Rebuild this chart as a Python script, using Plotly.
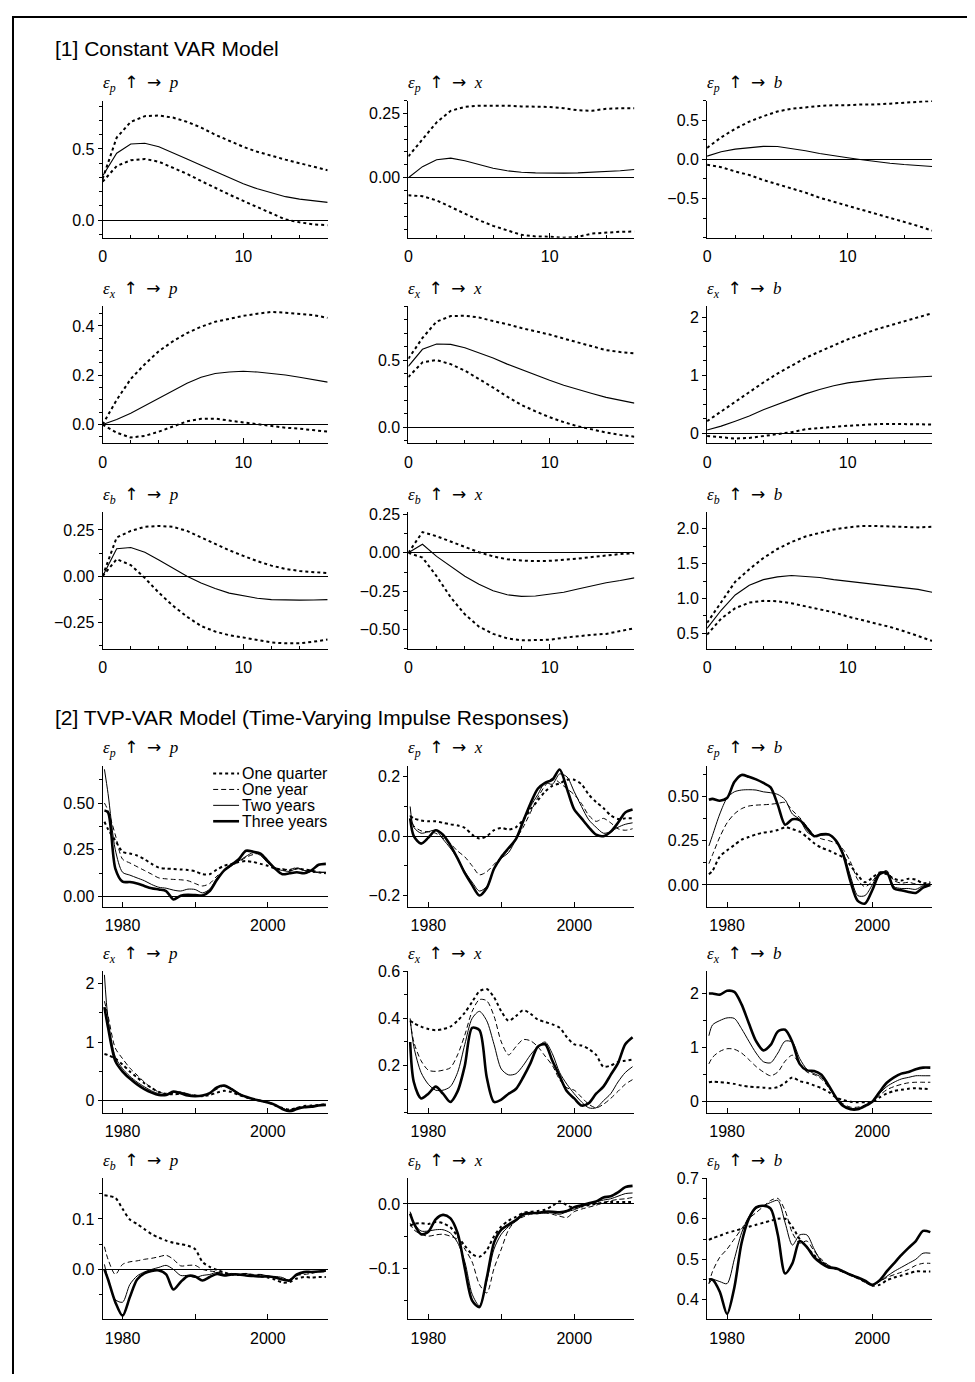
import plotly.graph_objects as go

# ---------------- DATA ----------------
HORIZON = list(range(17))

PP_MED = [0.31, 0.47, 0.535, 0.54, 0.515, 0.475, 0.43, 0.385, 0.34, 0.295, 0.255, 0.22, 0.19, 0.165, 0.148, 0.135, 0.125]
PP_UP = [0.29, 0.58, 0.69, 0.73, 0.735, 0.72, 0.69, 0.65, 0.60, 0.555, 0.515, 0.48, 0.45, 0.425, 0.40, 0.375, 0.35]
PP_LO = [0.27, 0.38, 0.42, 0.43, 0.41, 0.37, 0.325, 0.275, 0.225, 0.18, 0.135, 0.09, 0.045, 0.005, -0.015, -0.03, -0.035]

PX_MED = [0.0, 0.043, 0.07, 0.076, 0.066, 0.05, 0.037, 0.027, 0.021, 0.019, 0.018, 0.018, 0.019, 0.021, 0.024, 0.027, 0.032]
PX_UP = [0.083, 0.15, 0.215, 0.26, 0.275, 0.28, 0.28, 0.28, 0.277, 0.276, 0.275, 0.27, 0.262, 0.26, 0.268, 0.27, 0.27]
PX_LO = [-0.068, -0.072, -0.088, -0.114, -0.14, -0.165, -0.187, -0.206, -0.222, -0.228, -0.229, -0.233, -0.23, -0.217, -0.213, -0.21, -0.209]

PB_MED = [0.04, 0.096, 0.13, 0.15, 0.165, 0.163, 0.14, 0.11, 0.075, 0.045, 0.02, -0.005, -0.03, -0.05, -0.067, -0.08, -0.092]
PB_UP = [0.146, 0.28, 0.39, 0.48, 0.55, 0.61, 0.645, 0.665, 0.68, 0.69, 0.69, 0.70, 0.70, 0.71, 0.72, 0.735, 0.745]
PB_LO = [-0.07, -0.10, -0.155, -0.2, -0.265, -0.32, -0.37, -0.425, -0.49, -0.54, -0.6, -0.65, -0.7, -0.745, -0.8, -0.85, -0.91]

XP_MED = [0.0, 0.02, 0.046, 0.077, 0.106, 0.139, 0.168, 0.192, 0.207, 0.213, 0.216, 0.213, 0.208, 0.201, 0.192, 0.183, 0.172]
XP_UP = [0.0, 0.10, 0.185, 0.245, 0.298, 0.338, 0.371, 0.397, 0.417, 0.43, 0.441, 0.45, 0.457, 0.454, 0.45, 0.444, 0.433]
XP_LO = [0.0, -0.033, -0.053, -0.046, -0.029, -0.007, 0.013, 0.023, 0.024, 0.016, 0.009, 0.0, -0.007, -0.013, -0.017, -0.023, -0.029]

XX_MED = [0.454, 0.58, 0.62, 0.617, 0.592, 0.556, 0.515, 0.47, 0.43, 0.386, 0.35, 0.313, 0.28, 0.252, 0.223, 0.20, 0.18]
XX_UP = [0.51, 0.665, 0.786, 0.827, 0.83, 0.817, 0.79, 0.767, 0.738, 0.714, 0.69, 0.66, 0.63, 0.60, 0.574, 0.56, 0.55]
XX_LO = [0.374, 0.483, 0.50, 0.47, 0.422, 0.362, 0.296, 0.228, 0.167, 0.119, 0.075, 0.039, 0.007, -0.015, -0.039, -0.056, -0.07]

XB_MED = [0.056, 0.124, 0.21, 0.30, 0.405, 0.50, 0.59, 0.68, 0.755, 0.82, 0.87, 0.905, 0.93, 0.95, 0.965, 0.975, 0.985]
XB_UP = [0.21, 0.38, 0.55, 0.72, 0.876, 1.03, 1.17, 1.30, 1.41, 1.52, 1.62, 1.70, 1.79, 1.86, 1.93, 2.0, 2.07]
XB_LO = [-0.045, -0.07, -0.09, -0.08, -0.05, -0.017, 0.02, 0.07, 0.096, 0.11, 0.13, 0.146, 0.158, 0.163, 0.163, 0.158, 0.152]

BP_MED = [0.0, 0.148, 0.155, 0.13, 0.087, 0.042, 0.0, -0.037, -0.067, -0.092, -0.108, -0.12, -0.127, -0.13, -0.13, -0.129, -0.127]
BP_UP = [0.0, 0.21, 0.245, 0.267, 0.272, 0.267, 0.245, 0.21, 0.175, 0.14, 0.11, 0.081, 0.057, 0.039, 0.028, 0.021, 0.016]
BP_LO = [0.0, 0.092, 0.06, -0.01, -0.09, -0.16, -0.22, -0.27, -0.30, -0.32, -0.332, -0.346, -0.359, -0.364, -0.364, -0.355, -0.343]

BX_MED = [0.0, 0.056, -0.023, -0.09, -0.152, -0.204, -0.246, -0.273, -0.283, -0.281, -0.27, -0.256, -0.235, -0.215, -0.194, -0.18, -0.163]
BX_UP = [0.0, 0.135, 0.108, 0.073, 0.04, 0.004, -0.023, -0.042, -0.05, -0.054, -0.052, -0.046, -0.038, -0.027, -0.017, -0.008, -0.002]
BX_LO = [0.0, -0.031, -0.152, -0.29, -0.40, -0.48, -0.527, -0.556, -0.569, -0.569, -0.565, -0.552, -0.542, -0.533, -0.527, -0.51, -0.49]

BB_MED = [0.57, 0.83, 1.05, 1.19, 1.27, 1.31, 1.33, 1.32, 1.30, 1.27, 1.245, 1.22, 1.20, 1.18, 1.155, 1.13, 1.09]
BB_UP = [0.65, 0.95, 1.24, 1.42, 1.58, 1.71, 1.81, 1.89, 1.94, 1.99, 2.02, 2.04, 2.04, 2.03, 2.02, 2.02, 2.03]
BB_LO = [0.48, 0.71, 0.86, 0.94, 0.965, 0.96, 0.93, 0.89, 0.84, 0.80, 0.74, 0.69, 0.65, 0.59, 0.53, 0.46, 0.39]

YEARS = [1977.5, 1978, 1979, 1980, 1981, 1982, 1983, 1984, 1985, 1986, 1987, 1988, 1989, 1990, 1991,
         1992, 1993, 1994, 1995, 1996, 1997, 1998, 1999, 2000, 2001, 2002, 2003, 2004, 2005, 2006, 2007, 2008]

TVP_PP_Q = [0.40, 0.36, 0.30, 0.24, 0.23, 0.22, 0.20, 0.175, 0.155, 0.15, 0.148, 0.145, 0.142, 0.135, 0.12, 0.12, 0.145, 0.165, 0.175, 0.185, 0.19, 0.185, 0.175, 0.165, 0.15, 0.145, 0.14, 0.15, 0.145, 0.14, 0.13, 0.125]
TVP_PP_D = [0.50, 0.46, 0.33, 0.20, 0.18, 0.16, 0.14, 0.12, 0.10, 0.095, 0.092, 0.09, 0.085, 0.07, 0.057, 0.07, 0.11, 0.14, 0.165, 0.185, 0.21, 0.225, 0.23, 0.19, 0.155, 0.148, 0.145, 0.155, 0.14, 0.13, 0.13, 0.13]
TVP_PP_T = [0.68, 0.55, 0.25, 0.13, 0.115, 0.10, 0.085, 0.065, 0.05, 0.045, 0.035, 0.03, 0.04, 0.038, 0.02, 0.04, 0.10, 0.14, 0.165, 0.19, 0.215, 0.235, 0.22, 0.18, 0.15, 0.14, 0.135, 0.15, 0.14, 0.135, 0.13, 0.13]
TVP_PP_K = [0.46, 0.45, 0.15, 0.08, 0.078, 0.07, 0.057, 0.045, 0.038, 0.03, -0.015, 0.005, 0.01, 0.008, 0.006, 0.03, 0.09, 0.14, 0.17, 0.20, 0.245, 0.24, 0.23, 0.19, 0.15, 0.12, 0.125, 0.13, 0.125, 0.14, 0.17, 0.175]

TVP_PX_Q = [0.068, 0.06, 0.053, 0.05, 0.05, 0.045, 0.04, 0.036, 0.028, 0.005, -0.008, 0.0, 0.02, 0.028, 0.022, 0.03, 0.055, 0.09, 0.12, 0.15, 0.17, 0.178, 0.19, 0.19, 0.175, 0.14, 0.115, 0.095, 0.07, 0.058, 0.06, 0.06]
TVP_PX_D = [0.07, 0.035, 0.018, 0.015, 0.01, -0.007, -0.025, -0.05, -0.07, -0.10, -0.13, -0.12, -0.095, -0.07, -0.045, -0.01, 0.03, 0.08, 0.13, 0.17, 0.195, 0.18, 0.16, 0.14, 0.11, 0.07, 0.05, 0.06, 0.045, 0.025, 0.02, 0.025]
TVP_PX_T = [0.10, 0.03, 0.01, 0.015, 0.02, -0.01, -0.04, -0.075, -0.12, -0.155, -0.185, -0.17, -0.11, -0.075, -0.055, -0.01, 0.05, 0.10, 0.14, 0.18, 0.175, 0.21, 0.20, 0.15, 0.10, 0.055, 0.03, 0.01, 0.015, 0.03, 0.04, 0.045]
TVP_PX_K = [0.06, 0.0, -0.025, -0.005, 0.02, 0.005, -0.03, -0.075, -0.125, -0.165, -0.20, -0.175, -0.11, -0.07, -0.04, -0.01, 0.05, 0.11, 0.16, 0.18, 0.19, 0.225, 0.16, 0.09, 0.06, 0.03, 0.005, 0.0, 0.015, 0.045, 0.08, 0.09]

TVP_PB_Q = [0.06, 0.08, 0.16, 0.195, 0.225, 0.255, 0.27, 0.285, 0.295, 0.30, 0.31, 0.325, 0.315, 0.30, 0.27, 0.235, 0.21, 0.195, 0.175, 0.155, 0.11, 0.055, 0.015, 0.04, 0.07, 0.06, 0.035, 0.025, 0.035, 0.03, 0.01, 0.015]
TVP_PB_D = [0.12, 0.17, 0.27, 0.35, 0.40, 0.43, 0.445, 0.45, 0.452, 0.455, 0.46, 0.465, 0.42, 0.38, 0.33, 0.28, 0.26, 0.25, 0.235, 0.20, 0.13, 0.03, -0.01, 0.02, 0.07, 0.08, 0.025, 0.01, 0.015, 0.005, 0.0, 0.01]
TVP_PB_T = [0.22, 0.28, 0.40, 0.49, 0.525, 0.535, 0.537, 0.535, 0.525, 0.52, 0.51, 0.48, 0.40, 0.37, 0.30, 0.275, 0.28, 0.28, 0.25, 0.18, 0.05, -0.06, -0.06, 0.0, 0.07, 0.07, -0.01, -0.02, -0.02, -0.025, -0.005, 0.0]
TVP_PB_K = [0.48, 0.485, 0.475, 0.49, 0.58, 0.62, 0.61, 0.595, 0.575, 0.55, 0.45, 0.34, 0.37, 0.365, 0.32, 0.275, 0.285, 0.285, 0.25, 0.17, 0.02, -0.09, -0.105, -0.03, 0.06, 0.07, -0.02, -0.03, -0.04, -0.045, -0.015, 0.0]

TVP_XP_Q = [0.80, 0.78, 0.72, 0.62, 0.50, 0.40, 0.30, 0.22, 0.15, 0.12, 0.11, 0.12, 0.11, 0.09, 0.08, 0.10, 0.14, 0.17, 0.15, 0.10, 0.06, 0.02, 0.0, -0.02, -0.08, -0.12, -0.15, -0.12, -0.09, -0.08, -0.07, -0.06]
TVP_XP_D = [1.70, 1.45, 0.90, 0.72, 0.56, 0.44, 0.32, 0.22, 0.15, 0.12, 0.13, 0.15, 0.12, 0.09, 0.08, 0.12, 0.20, 0.25, 0.20, 0.12, 0.07, 0.03, 0.0, -0.03, -0.08, -0.13, -0.16, -0.12, -0.10, -0.09, -0.08, -0.07]
TVP_XP_T = [2.15, 1.40, 0.75, 0.55, 0.42, 0.32, 0.24, 0.17, 0.12, 0.10, 0.14, 0.15, 0.11, 0.08, 0.09, 0.13, 0.22, 0.26, 0.21, 0.13, 0.07, 0.03, 0.0, -0.02, -0.07, -0.13, -0.16, -0.12, -0.10, -0.09, -0.08, -0.07]
TVP_XP_K = [1.60, 1.25, 0.68, 0.50, 0.38, 0.28, 0.20, 0.14, 0.10, 0.10, 0.16, 0.13, 0.09, 0.08, 0.09, 0.13, 0.23, 0.26, 0.20, 0.12, 0.07, 0.03, 0.0, -0.03, -0.07, -0.14, -0.18, -0.14, -0.11, -0.10, -0.08, -0.07]

TVP_XX_Q = [0.39, 0.38, 0.365, 0.355, 0.35, 0.355, 0.365, 0.39, 0.425, 0.47, 0.515, 0.525, 0.49, 0.43, 0.39, 0.41, 0.435, 0.42, 0.395, 0.385, 0.375, 0.36, 0.32, 0.29, 0.285, 0.27, 0.245, 0.195, 0.20, 0.215, 0.22, 0.225]
TVP_XX_D = [0.39, 0.30, 0.22, 0.18, 0.175, 0.18, 0.19, 0.245, 0.33, 0.43, 0.48, 0.475, 0.41, 0.30, 0.245, 0.28, 0.31, 0.305, 0.28, 0.24, 0.20, 0.14, 0.105, 0.095, 0.065, 0.035, 0.02, 0.035, 0.06, 0.09, 0.12, 0.14]
TVP_XX_T = [0.40, 0.28, 0.17, 0.12, 0.095, 0.095, 0.11, 0.17, 0.29, 0.40, 0.43, 0.39, 0.29, 0.185, 0.16, 0.165, 0.20, 0.245, 0.28, 0.30, 0.25, 0.17, 0.12, 0.08, 0.045, 0.02, 0.02, 0.05, 0.08, 0.13, 0.17, 0.195]
TVP_XX_K = [0.30, 0.13, 0.06, 0.08, 0.11, 0.08, 0.045, 0.09, 0.20, 0.36, 0.35, 0.15, 0.045, 0.055, 0.08, 0.10, 0.15, 0.21, 0.28, 0.29, 0.22, 0.155, 0.09, 0.06, 0.03, 0.04, 0.08, 0.11, 0.16, 0.21, 0.29, 0.32]

TVP_XB_Q = [0.36, 0.37, 0.36, 0.35, 0.33, 0.30, 0.28, 0.27, 0.26, 0.25, 0.27, 0.35, 0.45, 0.38, 0.35, 0.30, 0.25, 0.18, 0.08, 0.03, 0.0, -0.01, -0.01, 0.0, 0.08, 0.15, 0.20, 0.22, 0.24, 0.25, 0.24, 0.23]
TVP_XB_D = [0.70, 0.82, 0.93, 0.98, 0.97, 0.90, 0.78, 0.65, 0.55, 0.48, 0.55, 0.75, 0.86, 0.70, 0.55, 0.50, 0.42, 0.26, 0.08, -0.04, -0.10, -0.10, -0.06, 0.0, 0.12, 0.22, 0.28, 0.32, 0.35, 0.36, 0.36, 0.36]
TVP_XB_T = [1.22, 1.42, 1.50, 1.55, 1.54, 1.35, 1.12, 0.90, 0.74, 0.72, 0.90, 1.12, 1.10, 0.80, 0.60, 0.52, 0.45, 0.28, 0.08, -0.06, -0.12, -0.12, -0.07, 0.0, 0.15, 0.28, 0.36, 0.42, 0.45, 0.48, 0.48, 0.48]
TVP_XB_K = [2.0, 2.0, 1.98, 2.05, 2.03, 1.80, 1.45, 1.12, 0.95, 1.05, 1.30, 1.33, 1.10, 0.70, 0.58, 0.57, 0.50, 0.30, 0.08, -0.08, -0.14, -0.14, -0.08, 0.0, 0.18, 0.35, 0.45, 0.52, 0.55, 0.60, 0.63, 0.63]

TVP_BP_Q = [0.147, 0.146, 0.142, 0.12, 0.099, 0.09, 0.08, 0.07, 0.063, 0.057, 0.053, 0.05, 0.047, 0.04, 0.015, 0.005, -0.001, -0.006, -0.01, -0.011, -0.01, -0.012, -0.014, -0.016, -0.02, -0.026, -0.025, -0.018, -0.015, -0.016, -0.015, -0.015]
TVP_BP_D = [0.045, 0.02, -0.01, 0.01, 0.015, 0.017, 0.02, 0.022, 0.025, 0.028, 0.02, 0.007, 0.008, 0.008, 0.0, -0.003, -0.005, -0.008, -0.01, -0.01, -0.008, -0.01, -0.01, -0.013, -0.016, -0.02, -0.02, -0.012, -0.01, -0.008, -0.005, -0.005]
TVP_BP_T = [0.01, -0.02, -0.06, -0.065, -0.03, -0.013, -0.005, 0.0, 0.004, 0.008, 0.0, -0.012, -0.012, -0.016, -0.012, -0.01, -0.006, -0.01, -0.008, -0.01, -0.008, -0.012, -0.01, -0.013, -0.014, -0.016, -0.022, -0.012, -0.007, -0.005, -0.004, -0.003]
TVP_BP_K = [0.0, -0.02, -0.065, -0.092, -0.055, -0.02, -0.008, -0.003, -0.002, -0.01, -0.04, -0.025, -0.013, -0.014, -0.022, -0.015, -0.009, -0.012, -0.01, -0.01, -0.012, -0.013, -0.014, -0.014, -0.016, -0.02, -0.022, -0.01, -0.005, -0.005, -0.004, -0.002]

TVP_BX_Q = [-0.034, -0.031, -0.03, -0.031, -0.028, -0.03, -0.036, -0.05, -0.065, -0.078, -0.082, -0.072, -0.05, -0.035, -0.026, -0.02, -0.014, -0.012, -0.011, -0.009, -0.003, 0.004, -0.002, -0.006, -0.004, -0.002, 0.0, 0.002, 0.003, 0.003, 0.003, 0.003]
TVP_BX_D = [-0.03, -0.04, -0.047, -0.05, -0.048, -0.047, -0.05, -0.055, -0.07, -0.09, -0.125, -0.138, -0.10, -0.07, -0.04, -0.026, -0.02, -0.016, -0.015, -0.014, -0.016, -0.019, -0.021, -0.012, -0.008, -0.005, -0.002, 0.002, 0.005, 0.007, 0.008, 0.01]
TVP_BX_T = [-0.012, -0.03, -0.042, -0.042, -0.04, -0.04, -0.045, -0.06, -0.09, -0.14, -0.158, -0.12, -0.07, -0.047, -0.035, -0.027, -0.018, -0.015, -0.015, -0.014, -0.014, -0.016, -0.012, -0.009, -0.004, -0.001, 0.003, 0.006, 0.008, 0.012, 0.016, 0.017]
TVP_BX_K = [-0.015, -0.03, -0.047, -0.043, -0.024, -0.017, -0.022, -0.045, -0.10, -0.15, -0.16, -0.115, -0.06, -0.04, -0.032, -0.025, -0.016, -0.014, -0.014, -0.012, -0.012, -0.013, -0.011, -0.005, -0.002, 0.001, 0.004, 0.01, 0.012, 0.018, 0.026, 0.028]

TVP_BB_Q = [0.548, 0.552, 0.558, 0.565, 0.57, 0.575, 0.58, 0.585, 0.59, 0.595, 0.60, 0.60, 0.58, 0.55, 0.53, 0.51, 0.495, 0.483, 0.477, 0.47, 0.462, 0.455, 0.445, 0.435, 0.437, 0.448, 0.455, 0.46, 0.465, 0.47, 0.47, 0.47]
TVP_BB_D = [0.44, 0.47, 0.505, 0.525, 0.55, 0.575, 0.60, 0.615, 0.63, 0.645, 0.65, 0.62, 0.565, 0.54, 0.545, 0.52, 0.50, 0.485, 0.475, 0.468, 0.46, 0.452, 0.443, 0.435, 0.445, 0.455, 0.462, 0.468, 0.475, 0.485, 0.49, 0.49]
TVP_BB_T = [0.44, 0.45, 0.445, 0.44, 0.50, 0.565, 0.605, 0.625, 0.632, 0.64, 0.645, 0.59, 0.535, 0.56, 0.56, 0.525, 0.495, 0.483, 0.478, 0.47, 0.463, 0.455, 0.447, 0.437, 0.445, 0.458, 0.47, 0.48, 0.49, 0.50, 0.515, 0.515]
TVP_BB_K = [0.45, 0.45, 0.42, 0.365, 0.43, 0.54, 0.60, 0.628, 0.632, 0.625, 0.56, 0.465, 0.49, 0.545, 0.53, 0.505, 0.49, 0.48, 0.478, 0.47, 0.462, 0.455, 0.447, 0.437, 0.448, 0.47, 0.49, 0.51, 0.528, 0.545, 0.57, 0.567]

SECTION_TITLES = ["[1] Constant VAR Model", "[2] TVP-VAR Model (Time-Varying Impulse Responses)"]
LEGEND_LABELS = ["One quarter", "One year", "Two years", "Three years"]
SHOCKS = ["p", "x", "b"]
VARS = ["p", "x", "b"]

# ---------------- LAYOUT HELPERS ----------------
OFF_X, OFF_Y = 11, 15      # where the figure canvas lands in the page
W, H = 959, 1366


def px(x):
    return (x - OFF_X) / W


def py(y):
    return 1 - (y - OFF_Y) / H


COLS = [(102, 328), (409, 636), (709, 935)]
ROWS1 = [(100, 238), (307, 445), (514, 652)]
ROWS2 = [(769, 911), (976, 1118), (1184, 1326)]

CONST = [
    [(PP_MED, PP_UP, PP_LO, [-0.123, 0.84], [0, 0.5], ["0.0", "0.5"], 0.1),
     (PX_MED, PX_UP, PX_LO, [-0.233, 0.30], [0, 0.25], ["0.00", "0.25"], 0.05),
     (PB_MED, PB_UP, PB_LO, [-1.0, 0.75], [-0.5, 0, 0.5], ["\u22120.5", "0.0", "0.5"], 0.25)],
    [(XP_MED, XP_UP, XP_LO, [-0.077, 0.48], [0, 0.2, 0.4], ["0.0", "0.2", "0.4"], 0.05),
     (XX_MED, XX_UP, XX_LO, [-0.12, 0.90], [0, 0.5], ["0.0", "0.5"], 0.1),
     (XB_MED, XB_UP, XB_LO, [-0.175, 2.19], [0, 1, 2], ["0", "1", "2"], 0.25)],
    [(BP_MED, BP_UP, BP_LO, [-0.396, 0.347], [-0.25, 0, 0.25], ["\u22120.25", "0.00", "0.25"], 0.125),
     (BX_MED, BX_UP, BX_LO, [-0.627, 0.265], [-0.5, -0.25, 0, 0.25], ["\u22120.50", "\u22120.25", "0.00", "0.25"], 0.125),
     (BB_MED, BB_UP, BB_LO, [0.27, 2.24], [0.5, 1.0, 1.5, 2.0], ["0.5", "1.0", "1.5", "2.0"], 0.25)],
]

TVP = [
    [((TVP_PP_Q, TVP_PP_D, TVP_PP_T, TVP_PP_K), [-0.054, 0.70], [0, 0.25, 0.5], ["0.00", "0.25", "0.50"], 0.125),
     ((TVP_PX_Q, TVP_PX_D, TVP_PX_T, TVP_PX_K), [-0.238, 0.238], [-0.2, 0, 0.2], ["\u22120.2", "0.0", "0.2"], 0.1),
     ((TVP_PB_Q, TVP_PB_D, TVP_PB_T, TVP_PB_K), [-0.123, 0.673], [0, 0.25, 0.5], ["0.00", "0.25", "0.50"], 0.125)],
    [((TVP_XP_Q, TVP_XP_D, TVP_XP_T, TVP_XP_K), [-0.2, 2.21], [0, 1, 2], ["0", "1", "2"], 0.5),
     ((TVP_XX_Q, TVP_XX_D, TVP_XX_T, TVP_XX_K), [0.0, 0.6], [0.2, 0.4, 0.6], ["0.2", "0.4", "0.6"], 0.1),
     ((TVP_XB_Q, TVP_XB_D, TVP_XB_T, TVP_XB_K), [-0.2, 2.41], [0, 1, 2], ["0", "1", "2"], 0.5)],
    [((TVP_BP_Q, TVP_BP_D, TVP_BP_T, TVP_BP_K), [-0.099, 0.181], [0, 0.1], ["0.0", "0.1"], 0.05),
     ((TVP_BX_Q, TVP_BX_D, TVP_BX_T, TVP_BX_K), [-0.179, 0.04], [-0.1, 0], ["\u22120.1", "0.0"], 0.05),
     ((TVP_BB_Q, TVP_BB_D, TVP_BB_T, TVP_BB_K), [0.352, 0.70], [0.4, 0.5, 0.6, 0.7], ["0.4", "0.5", "0.6", "0.7"], 0.05)],
]

SANS = "Liberation Sans, Arial, Helvetica, sans-serif"
SERIF = "Liberation Serif, Times New Roman, serif"
TICKFONT = dict(family=SANS, size=16, color="black")
ARROW = "<span style='font-family:DejaVu Sans;font-size:17px'>{}</span>"

TVP_STYLES = [("dot", 2.0), ("5px,3px", 1.0), ("solid", 1.0), ("solid", 2.6)]

fig = go.Figure()
layout = dict(width=W, height=H, margin=dict(l=0, r=0, t=0, b=0),
              paper_bgcolor="white", plot_bgcolor="white", showlegend=False)
annotations = []
shapes = []

k = 0
for sec in range(2):
    rows = ROWS1 if sec == 0 else ROWS2
    for r in range(3):
        for c in range(3):
            k += 1
            xa = "x" if k == 1 else f"x{k}"
            ya = "y" if k == 1 else f"y{k}"
            x0, x1 = COLS[c]
            y0, y1 = rows[r]
            if sec == 0:
                med, up, lo, yr, tv, tt, mdt = CONST[r][c]
                for series, dash, wdt in ((up, "dot", 2.0), (lo, "dot", 2.0), (med, "solid", 1.1)):
                    fig.add_trace(go.Scatter(x=HORIZON, y=series, mode="lines", xaxis=xa, yaxis=ya,
                                             line=dict(color="black", dash=dash, width=wdt),
                                             hoverinfo="skip"))
                xdef = dict(range=[0, 16], tickvals=[0, 10], ticktext=["0", "10"],
                            minor=dict(ticks="inside", ticklen=3, tickcolor="black", tickwidth=1,
                                       tickmode="linear", tick0=0, dtick=2))
            else:
                series4, yr, tv, tt, mdt = TVP[r][c]
                for series, (dash, wdt) in zip(series4, TVP_STYLES):
                    fig.add_trace(go.Scatter(x=YEARS, y=series, mode="lines", xaxis=xa, yaxis=ya,
                                             line=dict(color="black", dash=dash, width=wdt,
                                                       shape="spline", smoothing=0.8),
                                             hoverinfo="skip"))
                xdef = dict(range=[1977.25, 2008.25], tickvals=[1980, 2000], ticktext=["1980", "2000"],
                            minor=dict(ticks="inside", ticklen=5, tickcolor="black", tickwidth=1,
                                       tickmode="array", tickvals=[1990]))
            layout["xaxis" if k == 1 else f"xaxis{k}"] = dict(
                domain=[px(x0), px(x1)], anchor=ya, showline=True, linecolor="black", linewidth=1,
                ticks="inside", ticklen=5, tickcolor="black", tickwidth=1, showgrid=False,
                zeroline=False, tickfont=TICKFONT, tickmode="array", ticklabelstandoff=4,
                fixedrange=True, **xdef)
            layout["yaxis" if k == 1 else f"yaxis{k}"] = dict(
                domain=[py(y1), py(y0)], anchor=xa, range=yr, showline=True, linecolor="black",
                linewidth=1, ticks="outside", ticklen=4, tickcolor="black", tickwidth=1,
                showgrid=False, zeroline=True, zerolinecolor="black", zerolinewidth=1,
                tickmode="array", tickvals=tv, ticktext=tt, tickfont=TICKFONT, fixedrange=True,
                minor=dict(ticks="outside", ticklen=3, tickcolor="black", tickwidth=1,
                           tickmode="linear", tick0=0, dtick=mdt))
            title = (f"<i>\u03b5<sub>{SHOCKS[r]}</sub></i>\u2002" + ARROW.format("\u2191") +
                     "\u2002" + ARROW.format("\u2192") + "\u2002<i>" + VARS[c] + "</i>")
            annotations.append(dict(text=title, x=px(x0 - 2), y=py(y0 - 17), xref="paper", yref="paper",
                                    xanchor="left", yanchor="middle", showarrow=False,
                                    font=dict(family=SERIF, size=17, color="black")))

for txt, yc in zip(SECTION_TITLES, (48, 721)):
    annotations.append(dict(text=txt, x=px(52), y=py(yc), xref="paper", yref="paper",
                            xanchor="left", yanchor="middle", showarrow=False,
                            font=dict(family=SANS, size=21, color="black")))

for i, (lab, (dash, wdt)) in enumerate(zip(LEGEND_LABELS, TVP_STYLES)):
    yc = 777 + 16 * i
    shapes.append(dict(type="line", xref="paper", yref="paper", x0=px(213), x1=px(239),
                       y0=py(yc), y1=py(yc), line=dict(color="black", dash=dash, width=wdt)))
    annotations.append(dict(text=lab, x=px(240), y=py(yc), xref="paper", yref="paper",
                            xanchor="left", yanchor="middle", showarrow=False,
                            font=dict(family=SANS, size=16, color="black")))

# outer frame (top and left edges visible)
shapes.append(dict(type="rect", xref="paper", yref="paper", x0=px(OFF_X + 1), x1=px(1010),
                   y0=py(OFF_Y + 1), y1=py(1420),
                   line=dict(color="black", width=2), fillcolor="rgba(0,0,0,0)"))

layout["annotations"] = annotations
layout["shapes"] = shapes
fig.update_layout(**layout)
fig.write_html("out.html")
